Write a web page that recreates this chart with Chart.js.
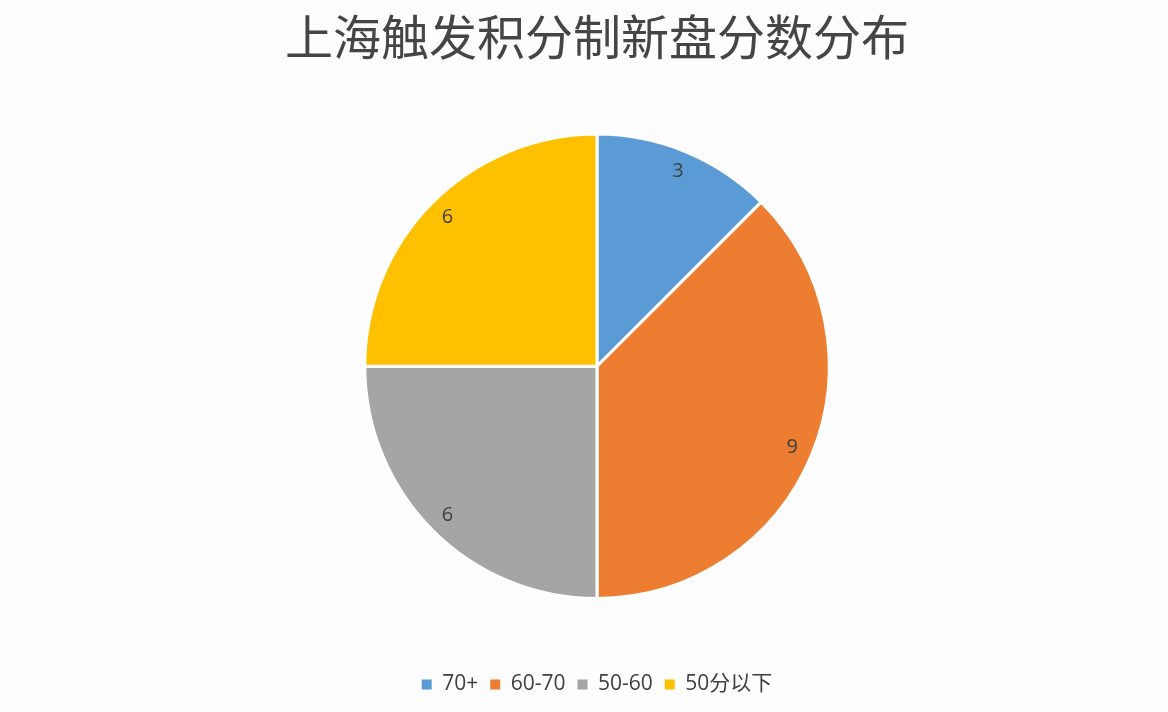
<!DOCTYPE html>
<html>
<head>
<meta charset="utf-8">
<script src="https://cdn.jsdelivr.net/npm/chart.js@4"></script>
<style>
  html, body { margin: 0; padding: 0; background: #fdfcfe; }
  #wrap { width: 1168px; height: 712px; }
</style>
</head>
<body>
<div id="wrap"><canvas id="pie"></canvas></div>
<script>
const categories = ['70+', '60-70', '50-60', '50分以下'];
const counts = [3, 9, 6, 6];
const colors = ['#5b9bd5', '#ed7d31', '#a5a5a5', '#ffc000'];
const titleText = '上海触发积分制新盘分数分布';

// draws the value inside each slice, near the rim
const sliceLabels = {
  id: 'sliceLabels',
  afterDatasetsDraw(chart) {
    const ctx = chart.ctx;
    const meta = chart.getDatasetMeta(0);
    ctx.save();
    ctx.font = '20px "Open Sans", "Noto Sans", sans-serif';
    ctx.fillStyle = '#404040';
    ctx.textAlign = 'center';
    ctx.textBaseline = 'middle';
    meta.data.forEach((arc, i) => {
      const p = arc.getProps(['x', 'y', 'startAngle', 'endAngle', 'outerRadius'], true);
      const mid = (p.startAngle + p.endAngle) / 2;
      const r = p.outerRadius * 0.91;
      ctx.fillText(String(chart.data.datasets[0].data[i]), p.x + Math.cos(mid) * r, p.y + Math.sin(mid) * r);
    });
    ctx.restore();
  }
};

new Chart(document.getElementById('pie'), {
  type: 'pie',
  data: {
    labels: categories,
    datasets: [{
      data: counts,
      backgroundColor: colors,
      borderColor: '#ffffff',
      borderWidth: 3
    }]
  },
  options: {
    responsive: true,
    maintainAspectRatio: false,
    animation: false,
    layout: { padding: { left: 26, bottom: 7 } },
    plugins: {
      title: {
        display: true,
        text: titleText,
        color: '#454545',
        font: { family: '"Noto Sans CJK SC", sans-serif', size: 48, weight: 'normal' },
        padding: { top: 8, bottom: 67 }
      },
      subtitle: {
        display: true,
        text: ' ',
        position: 'bottom',
        weight: 500,
        font: { size: 10 },
        padding: { top: 0, bottom: 50 }
      },
      legend: {
        position: 'bottom',
        labels: {
          boxWidth: 10,
          boxHeight: 10,
          padding: 12,
          color: '#404040',
          font: { family: '"Open Sans", "Noto Sans", "Noto Sans CJK SC", sans-serif', size: 21 },
          generateLabels(chart) {
            const items = Chart.controllers.pie.overrides.plugins.legend.labels.generateLabels(chart);
            items.forEach(it => { it.lineWidth = 0; it.strokeStyle = it.fillStyle; });
            return items;
          }
        }
      },
      tooltip: { enabled: false }
    }
  },
  plugins: [sliceLabels]
});
</script>
</body>
</html>
